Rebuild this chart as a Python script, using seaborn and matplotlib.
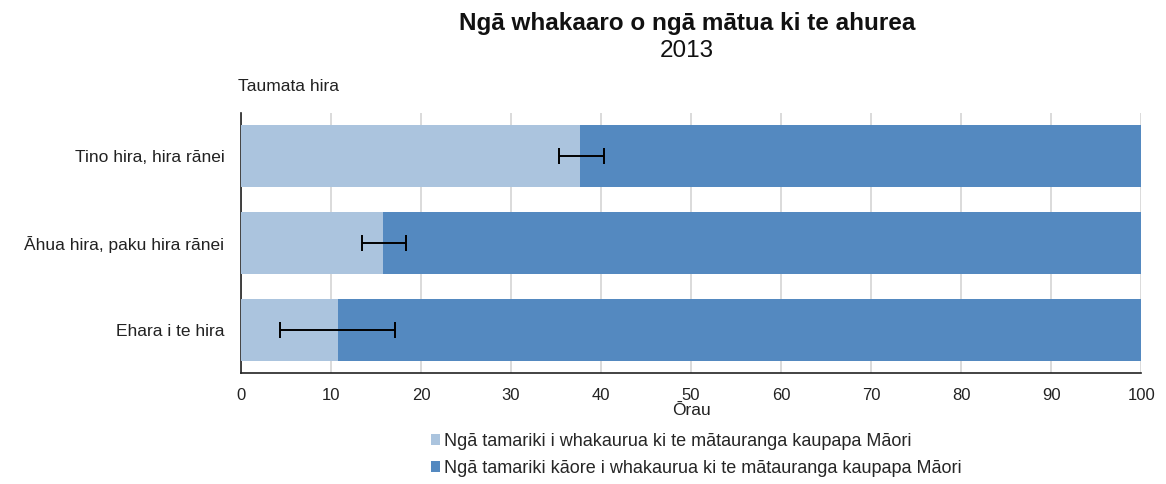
import matplotlib
matplotlib.use('Agg')
import matplotlib.pyplot as plt
from matplotlib.patches import Patch
import seaborn as sns
import pandas as pd

categories = ['Tino hira, hira rānei', 'Āhua hira, paku hira rānei', 'Ehara i te hira']
enrolled = [37.7, 15.8, 10.8]
err_low = [35.3, 13.4, 4.3]
err_high = [40.3, 18.3, 17.1]
total = [100, 100, 100]
series_names = ['Ngā tamariki i whakaurua ki te mātauranga kaupapa Māori',
                'Ngā tamariki kāore i whakaurua ki te mātauranga kaupapa Māori']

light = '#abc4de'
dark = '#5489c0'


def main():
    sns.set_style('white')
    plt.rcParams['font.family'] = ['Liberation Sans', 'DejaVu Sans']

    data = pd.DataFrame({'category': categories, 'enrolled': enrolled, 'total': total})

    fig = plt.figure(figsize=(11.66, 4.84), dpi=100)
    ax = fig.add_axes([0.2067, 0.2293, 0.772, 0.5372])

    sns.barplot(data=data, y='category', x='total', color=dark, orient='h',
                width=0.715, saturation=1, linewidth=0, ax=ax, zorder=2)
    sns.barplot(data=data, y='category', x='enrolled', color=light, orient='h',
                width=0.715, saturation=1, linewidth=0, ax=ax, zorder=3)

    mids = [(lo + hi) / 2 for lo, hi in zip(err_low, err_high)]
    half = [(hi - lo) / 2 for lo, hi in zip(err_low, err_high)]
    ax.errorbar(mids, range(len(categories)), xerr=half, fmt='none', ecolor='black',
                elinewidth=1.4, capsize=5.5, capthick=1.4, zorder=4)

    ax.set_xlim(0, 100)
    ax.set_ylim(2.5, -0.5)
    ax.set_xticks(range(0, 101, 10))
    ax.tick_params(axis='x', labelsize=12, colors='#222222', length=0, pad=11)
    ax.tick_params(axis='y', labelsize=12.5, colors='#222222', length=0, pad=12)
    ax.xaxis.grid(True, color='#d4d4d4', linewidth=1.2, zorder=0)
    ax.set_axisbelow(True)
    for side in ['top', 'right']:
        ax.spines[side].set_visible(False)
    ax.spines['left'].set_color('#222222')
    ax.spines['bottom'].set_color('#222222')
    ax.spines['left'].set_linewidth(1.2)
    ax.spines['bottom'].set_linewidth(1.2)

    ax.set_ylabel('')
    ax.set_xlabel('Ōrau', fontsize=12.5, color='#222222', labelpad=0)

    fig.text(0.589, 0.952, 'Ngā whakaaro o ngā mātua ki te ahurea', ha='center', va='center',
             fontsize=17.5, fontweight='bold', color='#111111')
    fig.text(0.589, 0.895, '2013', ha='center', va='center', fontsize=17.5, color='#111111')
    fig.text(0.204, 0.822, 'Taumata hira', ha='left', va='center', fontsize=12.5, color='#222222')

    handles = [Patch(facecolor=light, edgecolor='none'), Patch(facecolor=dark, edgecolor='none')]
    fig.legend(handles, series_names, loc='upper left', bbox_to_anchor=(0.3615, 0.124),
               frameon=False, fontsize=13, handlelength=0.55, handleheight=0.55,
               handletextpad=0.2, labelspacing=0.55, borderpad=0)

    plt.savefig('out.png', dpi=100)


if __name__ == '__main__':
    main()
